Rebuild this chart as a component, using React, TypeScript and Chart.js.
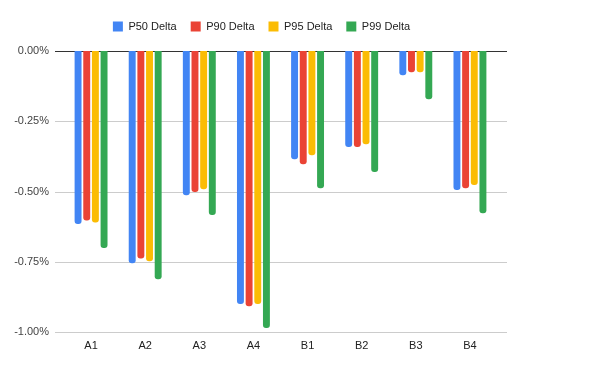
import React, { useEffect, useRef } from "react";
import { Chart, registerables } from "chart.js";

Chart.register(...registerables);

const categories = ["A1", "A2", "A3", "A4", "B1", "B2", "B3", "B4"];
const p50 = [-0.616, -0.755, -0.513, -0.9, -0.385, -0.342, -0.086, -0.495];
const p90 = [-0.603, -0.738, -0.502, -0.908, -0.403, -0.342, -0.076, -0.488];
const p95 = [-0.61, -0.748, -0.492, -0.9, -0.371, -0.332, -0.076, -0.477];
const p99 = [-0.701, -0.812, -0.584, -0.986, -0.488, -0.431, -0.172, -0.577];
const yTicks = [0, -0.25, -0.5, -0.75, -1.0];

const FONT = "Arial, 'Liberation Sans', sans-serif";

const gridPlugin = {
  id: "extGrid",
  afterInit(chart: any) {
    const lg = chart.legend;
    if (lg) {
      const origFit = lg.fit;
      lg.fit = function () {
        origFit.call(this);
        this.height += 9;
      };
      const origDraw = lg.draw;
      lg.draw = function () {
        this.ctx.save();
        this.ctx.translate(13, 0);
        origDraw.call(this);
        this.ctx.restore();
      };
    }
  },
  beforeDatasetsDraw(chart: any) {
    const ctx = chart.ctx;
    const y = chart.scales.y;
    ctx.save();
    yTicks.forEach((v) => {
      const py = Math.round(y.getPixelForValue(v)) + 0.5;
      ctx.beginPath();
      ctx.strokeStyle = v === 0 ? "#333333" : "#cccccc";
      ctx.lineWidth = 1;
      ctx.moveTo(55, py);
      ctx.lineTo(507, py);
      ctx.stroke();
    });
    ctx.restore();
  },
};

export default function App() {
  const ref = useRef<HTMLCanvasElement>(null);
  useEffect(() => {
    document.body.style.margin = "0";
    const chart = new Chart(ref.current as HTMLCanvasElement, {
      type: "bar",
      data: {
        labels: categories,
        datasets: [
          { label: "P50 Delta", data: p50, backgroundColor: "#4285F4" },
          { label: "P90 Delta", data: p90, backgroundColor: "#EA4335" },
          { label: "P95 Delta", data: p95, backgroundColor: "#FBBC04" },
          { label: "P99 Delta", data: p99, backgroundColor: "#34A853" },
        ].map((d) => ({
          ...d,
          borderRadius: 3,
          borderSkipped: "start",
          categoryPercentage: 0.64,
          barPercentage: 0.8,
        })) as any,
      },
      options: {
        responsive: false,
        animation: false,
        layout: { padding: { top: 7, right: 103, left: 0, bottom: 0 } },
        plugins: {
          legend: {
            position: "top",
            labels: {
              boxWidth: 10,
              boxHeight: 10,
              padding: 14,
              color: "#222222",
              font: { family: FONT, size: 11 },
            },
          },
          tooltip: { enabled: false },
        },
        scales: {
          x: {
            grid: { display: false, drawTicks: false },
            border: { display: false },
            ticks: { color: "#222222", padding: 7, font: { family: FONT, size: 11 } },
            afterFit: (s: any) => {
              s.height = 39;
            },
          },
          y: {
            min: -1,
            max: 0,
            grid: { display: false, drawTicks: false },
            border: { display: false },
            afterBuildTicks: (s: any) => {
              s.ticks = yTicks.map((v) => ({ value: v }));
            },
            ticks: {
              color: "#444444",
              padding: 15,
              font: { family: FONT, size: 11 },
              callback: (v: any) => (Number(v) * 1).toFixed(2) + "%",
            },
            afterFit: (s: any) => {
              s.width = 64;
            },
          },
        },
      },
      plugins: [gridPlugin],
    });
    return () => chart.destroy();
  }, []);
  return <canvas ref={ref} width={600} height={371} />;
}
